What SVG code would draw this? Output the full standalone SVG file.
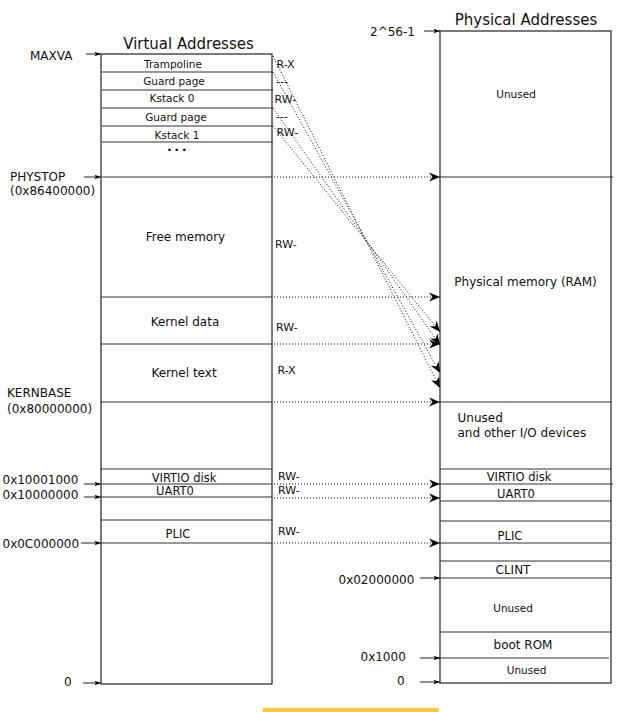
<svg xmlns="http://www.w3.org/2000/svg" width="633" height="712" viewBox="0 0 633 712">
<style>
text{font-family:"DejaVu Sans","Liberation Sans",sans-serif;fill:#111}
.t15{font-size:15px}
.t12{font-size:12px}
.t115{font-size:11.5px}
.t11{font-size:11px}
.t105{font-size:10.5px}
.m{text-anchor:middle}
.box{fill:none;stroke:#333;stroke-width:1.3}
.div{fill:none;stroke:#333;stroke-width:1.1}
.dot{fill:none;stroke:#111;stroke-width:1;stroke-dasharray:1 2}
.lab{fill:none;stroke:#222;stroke-width:1}
</style>
<defs>
<marker id="big" markerUnits="userSpaceOnUse" viewBox="-12 -6 13 12" refX="0" refY="0" markerWidth="13" markerHeight="12" orient="auto">
<path d="M0,0 L-11,-4.5 L-7.5,0 L-11,4.5 Z" fill="#000"/>
</marker>
<marker id="small" markerUnits="userSpaceOnUse" viewBox="-7 -3 8 6" refX="0" refY="0" markerWidth="8" markerHeight="6" orient="auto">
<path d="M0,0 L-6.5,-2.3 L-5,0 L-6.5,2.3 Z" fill="#000"/>
</marker>
</defs>

<g id="virtual">
<text class="t15 m" x="188.5" y="49">Virtual Addresses</text>
<rect class="box" x="101" y="54" width="171" height="630"/>
</g>
<g id="v-trampoline">
<text class="t105 m" x="173" y="67.5">Trampoline</text>
<line class="div" x1="102" y1="72" x2="273" y2="72"/>
<text class="t11" x="276.5" y="67.5">R-X</text>
</g>
<g id="v-guard0">
<text class="t105 m" x="174" y="84.5">Guard page</text>
<line class="div" x1="102" y1="90" x2="273" y2="90"/>
<text class="t11" x="276" y="85">---</text>
</g>
<g id="v-kstack0">
<text class="t105 m" x="172" y="102">Kstack 0</text>
<line class="div" x1="102" y1="108" x2="273" y2="108"/>
<text class="t11" x="274.5" y="103">RW-</text>
</g>
<g id="v-guard1">
<text class="t105 m" x="176" y="120.5">Guard page</text>
<line class="div" x1="102" y1="126" x2="273" y2="126"/>
<text class="t11" x="276" y="120">---</text>
</g>
<g id="v-kstack1">
<text class="t105 m" x="177" y="138.5">Kstack 1</text>
<line class="div" x1="102" y1="142" x2="273" y2="142"/>
<text class="t11" x="276.5" y="136">RW-</text>
<text class="m" x="178" y="151" style="font-size:13px;font-weight:bold;letter-spacing:2.4px">...</text>
</g>
<g id="v-physstop">
<line class="div" x1="102" y1="177" x2="272" y2="177"/>
<text class="t12" x="10" y="180.5">PHYSTOP</text>
<text class="t12" x="10" y="195">(0x86400000)</text>
</g>
<g id="v-free">
<text class="t12 m" x="185.5" y="241">Free memory</text>
<text class="t11" x="275" y="248">RW-</text>
<line class="div" x1="101" y1="297" x2="272" y2="297"/>
</g>
<g id="v-kdata">
<text class="t12 m" x="185" y="326">Kernel data</text>
<text class="t11" x="276" y="330.5">RW-</text>
<line class="div" x1="101" y1="344" x2="272" y2="344"/>
</g>
<g id="v-ktext">
<text class="t12 m" x="184" y="377">Kernel text</text>
<text class="t11" x="277.5" y="373.5">R-X</text>
<line class="div" x1="101" y1="402" x2="272" y2="402"/>
<text class="t12" x="7" y="397">KERNBASE</text>
<text class="t12" x="7" y="413">(0x80000000)</text>
</g>
<g id="v-virtio">
<line class="div" x1="101" y1="469" x2="272" y2="469"/>
<text class="t115 m" x="184" y="481.5">VIRTIO disk</text>
<text class="t11" x="278" y="480">RW-</text>
<line class="div" x1="101" y1="484" x2="272" y2="484"/>
<text class="t12" x="2.5" y="484">0x10001000</text>
</g>
<g id="v-uart0">
<text class="t115 m" x="175" y="495">UART0</text>
<text class="t11" x="278" y="493.5">RW-</text>
<line class="div" x1="101" y1="497" x2="272" y2="497"/>
<text class="t12" x="2.5" y="499">0x10000000</text>
</g>
<g id="v-plic">
<line class="div" x1="101" y1="520" x2="272" y2="520"/>
<text class="t115 m" x="178" y="537.5">PLIC</text>
<text class="t11" x="278" y="535">RW-</text>
<line class="div" x1="101" y1="543" x2="272" y2="543"/>
<text class="t12" x="2.5" y="548">0x0C000000</text>
</g>
<g id="v-labels">
<text class="t12" x="30" y="60">MAXVA</text>
<text class="t12" x="64" y="686">0</text>
</g>

<g id="physical">
<text class="t15 m" x="526" y="25">Physical Addresses</text>
<rect class="box" x="440" y="31" width="171" height="652"/>
<text class="t12" x="370" y="36">2^56-1</text>
</g>
<g id="p-unused-top">
<text class="t105 m" x="516" y="97.5">Unused</text>
<line class="div" x1="440" y1="177" x2="613" y2="177"/>
</g>
<g id="p-ram">
<text class="t12 m" x="525.5" y="286">Physical memory (RAM)</text>
<line class="div" x1="440" y1="402" x2="611" y2="402"/>
</g>
<g id="p-unused-io">
<text class="t12" x="457.5" y="421.5">Unused</text>
<text class="t12" x="457.5" y="436.5">and other I/O devices</text>
<line class="div" x1="440" y1="469" x2="611" y2="469"/>
</g>
<g id="p-virtio">
<text class="t115 m" x="519" y="481">VIRTIO disk</text>
<line class="div" x1="440" y1="484" x2="613" y2="484"/>
</g>
<g id="p-uart0">
<text class="t115 m" x="516" y="497.5">UART0</text>
<line class="div" x1="440" y1="501" x2="611" y2="501"/>
<line class="div" x1="440" y1="521" x2="611" y2="521"/>
</g>
<g id="p-plic">
<text class="t115 m" x="510" y="540">PLIC</text>
<line class="div" x1="440" y1="543" x2="611" y2="543"/>
<line class="div" x1="440" y1="561" x2="611" y2="561"/>
</g>
<g id="p-clint">
<text class="t12 m" x="513" y="574">CLINT</text>
<line class="div" x1="440" y1="578" x2="611" y2="578"/>
<text class="t12" x="338.5" y="583.5">0x02000000</text>
</g>
<g id="p-unused-mid">
<text class="t105 m" x="513" y="612">Unused</text>
<line class="div" x1="440" y1="632" x2="611" y2="632"/>
</g>
<g id="p-bootrom">
<text class="t12 m" x="523" y="649">boot ROM</text>
<line class="div" x1="438" y1="658" x2="609" y2="658"/>
<text class="t12" x="360.5" y="660.5">0x1000</text>
</g>
<g id="p-unused-low">
<text class="t105 m" x="526.5" y="674">Unused</text>
<text class="t12" x="397" y="685">0</text>
</g>

<g id="connectors">
<line class="lab" x1="86" y1="54" x2="101" y2="54" marker-end="url(#small)"/>
<line class="lab" x1="84" y1="177" x2="101" y2="177" marker-end="url(#small)"/>
<line class="lab" x1="84" y1="484" x2="101" y2="484" marker-end="url(#small)"/>
<line class="lab" x1="84" y1="497" x2="101" y2="497" marker-end="url(#small)"/>
<line class="lab" x1="81" y1="543" x2="101" y2="543" marker-end="url(#small)"/>
<line class="lab" x1="83" y1="683" x2="101" y2="683" marker-end="url(#small)"/>
<line class="lab" x1="424" y1="31" x2="440" y2="31" marker-end="url(#small)"/>
<line class="lab" x1="420" y1="578" x2="440" y2="578" marker-end="url(#small)"/>
<line class="lab" x1="420" y1="658" x2="440" y2="658" marker-end="url(#small)"/>
<line class="lab" x1="420" y1="682" x2="440" y2="682" marker-end="url(#small)"/>

<line class="dot" x1="274" y1="177" x2="440" y2="177" marker-end="url(#big)"/>
<line class="dot" x1="274" y1="297" x2="440" y2="297" marker-end="url(#big)"/>
<line class="dot" x1="274" y1="344" x2="440" y2="344" marker-end="url(#big)"/>
<line class="dot" x1="274" y1="402" x2="440" y2="402" marker-end="url(#big)"/>
<line class="dot" x1="274" y1="484" x2="440" y2="484" marker-end="url(#big)"/>
<line class="dot" x1="274" y1="498" x2="440" y2="498" marker-end="url(#big)"/>
<line class="dot" x1="274" y1="543" x2="440" y2="543" marker-end="url(#big)"/>

<line class="dot" x1="273" y1="56" x2="440" y2="388" marker-end="url(#big)"/>
<line class="dot" x1="273" y1="72" x2="440" y2="373" marker-end="url(#big)"/>
<line class="dot" x1="273" y1="108" x2="440" y2="345" marker-end="url(#big)"/>
<line class="dot" x1="273" y1="126" x2="440" y2="332" marker-end="url(#big)"/>
</g>

<rect x="263" y="708" width="176" height="4" fill="#fcc93c"/>
</svg>
